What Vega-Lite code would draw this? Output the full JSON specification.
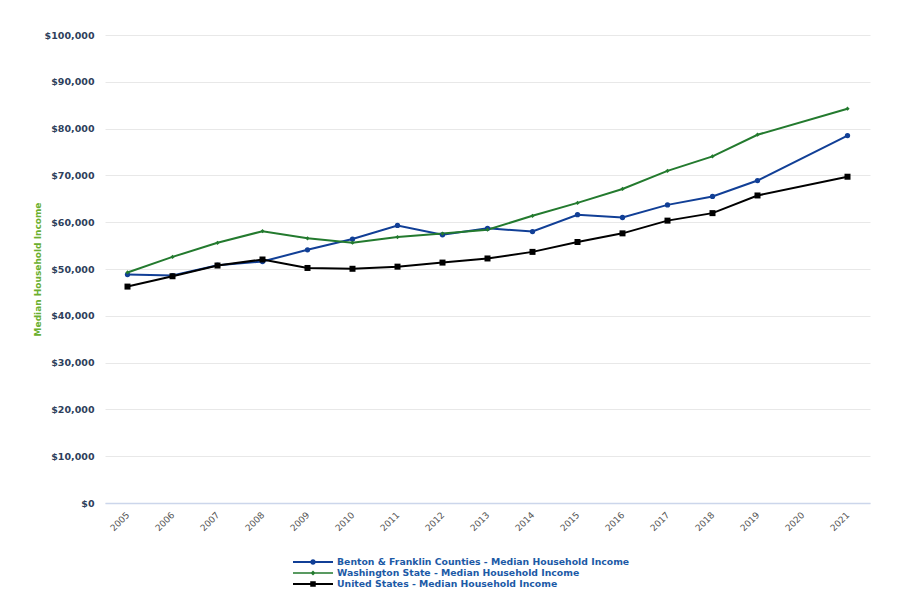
{
  "$schema": "https://vega.github.io/schema/vega-lite/v6.json",
  "autosize": {"type": "none"},
  "width": 765,
  "height": 468,
  "padding": {"left": 105, "top": 35, "right": 30, "bottom": 97},
  "background": "#ffffff",
  "config": {
    "view": {"stroke": null},
    "font": "DejaVu Sans"
  },
  "data": {
    "values": [
      {"year": 2005, "series": "Benton & Franklin Counties - Median Household Income", "value": 48800},
      {"year": 2006, "series": "Benton & Franklin Counties - Median Household Income", "value": 48600},
      {"year": 2007, "series": "Benton & Franklin Counties - Median Household Income", "value": 50800},
      {"year": 2008, "series": "Benton & Franklin Counties - Median Household Income", "value": 51600},
      {"year": 2009, "series": "Benton & Franklin Counties - Median Household Income", "value": 54100},
      {"year": 2010, "series": "Benton & Franklin Counties - Median Household Income", "value": 56400},
      {"year": 2011, "series": "Benton & Franklin Counties - Median Household Income", "value": 59300},
      {"year": 2012, "series": "Benton & Franklin Counties - Median Household Income", "value": 57300},
      {"year": 2013, "series": "Benton & Franklin Counties - Median Household Income", "value": 58700},
      {"year": 2014, "series": "Benton & Franklin Counties - Median Household Income", "value": 58000},
      {"year": 2015, "series": "Benton & Franklin Counties - Median Household Income", "value": 61600},
      {"year": 2016, "series": "Benton & Franklin Counties - Median Household Income", "value": 61000},
      {"year": 2017, "series": "Benton & Franklin Counties - Median Household Income", "value": 63700},
      {"year": 2018, "series": "Benton & Franklin Counties - Median Household Income", "value": 65500},
      {"year": 2019, "series": "Benton & Franklin Counties - Median Household Income", "value": 68900},
      {"year": 2021, "series": "Benton & Franklin Counties - Median Household Income", "value": 78500},
      {"year": 2005, "series": "Washington State - Median Household Income", "value": 49262},
      {"year": 2006, "series": "Washington State - Median Household Income", "value": 52583},
      {"year": 2007, "series": "Washington State - Median Household Income", "value": 55591},
      {"year": 2008, "series": "Washington State - Median Household Income", "value": 58078},
      {"year": 2009, "series": "Washington State - Median Household Income", "value": 56548},
      {"year": 2010, "series": "Washington State - Median Household Income", "value": 55631},
      {"year": 2011, "series": "Washington State - Median Household Income", "value": 56835},
      {"year": 2012, "series": "Washington State - Median Household Income", "value": 57573},
      {"year": 2013, "series": "Washington State - Median Household Income", "value": 58405},
      {"year": 2014, "series": "Washington State - Median Household Income", "value": 61366},
      {"year": 2015, "series": "Washington State - Median Household Income", "value": 64129},
      {"year": 2016, "series": "Washington State - Median Household Income", "value": 67106},
      {"year": 2017, "series": "Washington State - Median Household Income", "value": 70979},
      {"year": 2018, "series": "Washington State - Median Household Income", "value": 74073},
      {"year": 2019, "series": "Washington State - Median Household Income", "value": 78687},
      {"year": 2021, "series": "Washington State - Median Household Income", "value": 84247},
      {"year": 2005, "series": "United States - Median Household Income", "value": 46242},
      {"year": 2006, "series": "United States - Median Household Income", "value": 48451},
      {"year": 2007, "series": "United States - Median Household Income", "value": 50740},
      {"year": 2008, "series": "United States - Median Household Income", "value": 52029},
      {"year": 2009, "series": "United States - Median Household Income", "value": 50221},
      {"year": 2010, "series": "United States - Median Household Income", "value": 50046},
      {"year": 2011, "series": "United States - Median Household Income", "value": 50502},
      {"year": 2012, "series": "United States - Median Household Income", "value": 51371},
      {"year": 2013, "series": "United States - Median Household Income", "value": 52250},
      {"year": 2014, "series": "United States - Median Household Income", "value": 53657},
      {"year": 2015, "series": "United States - Median Household Income", "value": 55775},
      {"year": 2016, "series": "United States - Median Household Income", "value": 57617},
      {"year": 2017, "series": "United States - Median Household Income", "value": 60336},
      {"year": 2018, "series": "United States - Median Household Income", "value": 61937},
      {"year": 2019, "series": "United States - Median Household Income", "value": 65712},
      {"year": 2021, "series": "United States - Median Household Income", "value": 69717}
    ]
  },
  "encoding": {
    "x": {
      "field": "year",
      "type": "quantitative",
      "scale": {"domain": [2004.5, 2021.5], "nice": false, "zero": false},
      "axis": {
        "title": null,
        "values": [2005, 2006, 2007, 2008, 2009, 2010, 2011, 2012, 2013, 2014, 2015, 2016, 2017, 2018, 2019, 2020, 2021],
        "format": "d",
        "grid": false,
        "ticks": false,
        "domainColor": "#ccd6eb",
        "domainWidth": 1.5,
        "labelAngle": -45,
        "labelAlign": "right",
        "labelBaseline": "middle",
        "labelPadding": 10,
        "labelFont": "DejaVu Sans",
        "labelFontSize": 9,
        "labelColor": "#555555",
        "labelFlush": false,
        "labelOverlap": false
      }
    },
    "y": {
      "field": "value",
      "type": "quantitative",
      "scale": {"domain": [0, 100000], "nice": false},
      "axis": {
        "title": "Median Household Income",
        "titleColor": "#6aaf2e",
        "titleFont": "DejaVu Sans",
        "titleFontWeight": "bold",
        "titleFontSize": 9,
        "titleX": -68,
        "titleY": 234,
        "titleAngle": -90,
        "titleAlign": "center",
        "titleBaseline": "middle",
        "values": [0, 10000, 20000, 30000, 40000, 50000, 60000, 70000, 80000, 90000, 100000],
        "format": "$,.0f",
        "domain": false,
        "ticks": false,
        "grid": true,
        "gridColor": "#e8e8e8",
        "gridWidth": 1,
        "labelPadding": 11,
        "labelFont": "DejaVu Sans",
        "labelFontWeight": "bold",
        "labelFontSize": 9.5,
        "labelColor": "#2e3f5c"
      }
    },
    "color": {
      "field": "series",
      "type": "nominal",
      "scale": {
        "domain": ["Benton & Franklin Counties - Median Household Income", "Washington State - Median Household Income", "United States - Median Household Income"],
        "range": ["#113f96", "#237a2e", "#000000"]
      },
      "legend": {
        "orient": "none",
        "legendX": 188,
        "legendY": 522,
        "direction": "vertical",
        "title": null,
        "symbolSize": 100,
        "symbolOpacity": 1,
        "symbolStrokeWidth": 0,
        "labelOffset": 34,
        "rowPadding": 0,
        "labelFont": "DejaVu Sans",
        "labelFontWeight": "bold",
        "labelFontSize": 9.3,
        "labelColor": "#1c5aa6",
        "labelLimit": 500
      }
    }
  },
  "layer": [
    {
      "transform": [{"filter": "false"}],
      "mark": {"type": "point", "filled": true},
      "encoding": {
        "shape": {
          "field": "series",
          "type": "nominal",
          "scale": {
            "domain": ["Benton & Franklin Counties - Median Household Income", "Washington State - Median Household Income", "United States - Median Household Income"],
            "range": [
              "M-1,-0.2H7V0.2H-1Z M3.55,0A0.55,0.55 0 1,1 2.45,0A0.55,0.55 0 1,1 3.55,0Z",
              "M-1,-0.16H7V0.16H-1Z M3,-0.5L3.5,0L3,0.5L2.5,0Z",
              "M-1,-0.2H7V0.2H-1Z M2.45,-0.55H3.55V0.55H2.45Z"
            ]
          },
          "legend": {
            "orient": "none",
            "legendX": 188,
            "legendY": 522,
            "direction": "vertical",
            "title": null,
            "symbolSize": 100,
            "symbolOpacity": 1,
            "symbolStrokeWidth": 0,
            "labelOffset": 34,
            "rowPadding": 0,
            "labelFont": "DejaVu Sans",
            "labelFontWeight": "bold",
            "labelFontSize": 9.3,
            "labelColor": "#1c5aa6",
            "labelLimit": 500
          }
        }
      }
    },
    {
      "mark": {"type": "line", "strokeWidth": 2},
      "encoding": {}
    },
    {
      "mark": {"type": "point", "filled": true, "opacity": 1},
      "encoding": {
        "shape": {
          "condition": [
            {"test": "datum.series === 'Washington State - Median Household Income'", "value": "diamond"},
            {"test": "datum.series === 'United States - Median Household Income'", "value": "square"}
          ],
          "value": "circle"
        },
        "size": {
          "condition": [
            {"test": "datum.series === 'Washington State - Median Household Income'", "value": 18},
            {"test": "datum.series === 'United States - Median Household Income'", "value": 36}
          ],
          "value": 28
        }
      }
    }
  ]
}
